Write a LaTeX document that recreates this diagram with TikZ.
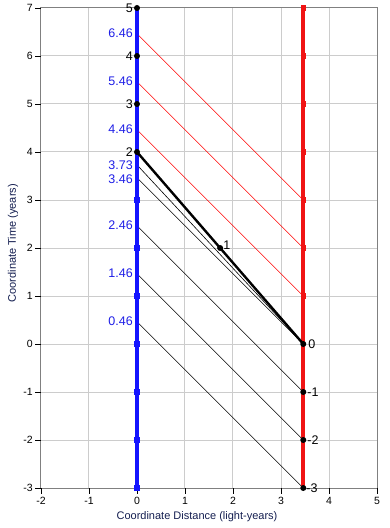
\documentclass[tikz,border=0pt]{standalone}
\usepackage{fontspec}
\setmainfont{Liberation Sans}
\definecolor{gridc}{RGB}{204,204,204}
\definecolor{framec}{RGB}{128,128,128}
\definecolor{wlblue}{RGB}{20,20,255}
\definecolor{wlred}{RGB}{240,20,20}
\definecolor{lblblue}{RGB}{30,30,230}
\definecolor{titlec}{RGB}{20,30,80}
\begin{document}
\begin{tikzpicture}[x=48pt,y=48pt,
  gridline/.style={draw=gridc,line width=1pt},
  frameline/.style={draw=framec,line width=1pt},
  tickmark/.style={draw=black,line width=0.8pt},
  ticklbl/.style={font=\fontsize{10.5}{12}\selectfont,text=black,inner sep=0pt},
  axtitle/.style={font=\fontsize{11}{13}\selectfont,text=titlec,inner sep=0pt},
  blueline/.style={draw=wlblue,line width=3.6pt},
  redline/.style={draw=wlred,line width=3.6pt},
  blacksig/.style={draw=black,line width=0.6pt},
  redsig/.style={draw=red,line width=0.6pt},
  pathline/.style={draw=black,line width=2.4pt,line join=round},
  dot/.style={circle,fill=black,inner sep=0pt,minimum size=6pt},
  bsq/.style={rectangle,fill=wlblue,inner sep=0pt,minimum size=5.5pt},
  rsq/.style={rectangle,fill=wlred,inner sep=0pt,minimum size=5.5pt},
  ptlbl/.style={font=\fontsize{12.5}{14}\selectfont,text=black,inner sep=0pt},
  bluelbl/.style={font=\fontsize{12.5}{14}\selectfont,text=lblblue,inner sep=0pt}
]
\useasboundingbox (-137pt,-184pt) rectangle (253pt,344pt);
% grid
\foreach \x in {-1,...,4} \draw[gridline] (\x,-3) -- (\x,7);
\foreach \y in {-2,...,6} \draw[gridline] (-2,\y) -- (5,\y);
\draw[frameline] (-2,-3) rectangle (5,7);
% ticks and tick labels
\foreach \y in {-3,...,7} {
  \draw[tickmark] (-2,\y) -- ++(-6pt,0);
  \node[ticklbl,anchor=east] (ty\y) at ([xshift=-8pt]-2,\y) {\y};
}
\foreach \x in {-2,...,5} {
  \draw[tickmark] (\x,-3) -- ++(0,-6pt);
  \node[ticklbl,anchor=north] (tx\x) at ([yshift=-9pt]\x,-3) {\x};
}
\node[axtitle] (xtitle) at (1.25,-3.6) {Coordinate Distance (light-years)};
\node[axtitle,rotate=90] (ytitle) at ([xshift=-124pt]0,2.1) {Coordinate Time (years)};
% key points
\coordinate (Bbot) at (0,-3);
\coordinate (Btop) at (0,7);
\coordinate (Rbot) at (3.464,-3);
\coordinate (Rtop) at (3.464,7);
\coordinate (E046) at (0,0.464);
\coordinate (E146) at (0,1.464);
\coordinate (E246) at (0,2.464);
\coordinate (E346) at (0,3.464);
\coordinate (E373) at (0,3.732);
\coordinate (E446) at (0,4.464);
\coordinate (E546) at (0,5.464);
\coordinate (E646) at (0,6.464);
\coordinate (R0) at (3.464,0);
\coordinate (Rm1) at (3.464,-1);
\coordinate (Rm2) at (3.464,-2);
\coordinate (Rm3) at (3.464,-3);
\coordinate (R1) at (3.464,1);
\coordinate (R2) at (3.464,2);
\coordinate (R3) at (3.464,3);
\coordinate (B4) at (0,4);
\coordinate (B5) at (0,5);
\coordinate (B6) at (0,6);
\coordinate (B7) at (0,7);
\coordinate (M) at (1.732,2);
% signals
\draw[blacksig] (E373) -- (R0);
\draw[blacksig] (E346) -- (R0);
\draw[blacksig] (E246) -- (Rm1);
\draw[blacksig] (E146) -- (Rm2);
\draw[blacksig] (E046) -- (Rm3);
\draw[redsig] (E446) -- (R1);
\draw[redsig] (E546) -- (R2);
\draw[redsig] (E646) -- (R3);
% worldlines
\draw[blueline] (Bbot) -- (Btop);
\draw[redline] (Rbot) -- (Rtop);
\draw[pathline] (B4) -- (M) -- (R0);
% markers
\foreach \y in {-3,...,3} \node[bsq] (bq\y) at (0,\y) {};
\foreach \y in {1,...,7} \node[rsq] (rq\y) at (3.464,\y) {};
\foreach \c in {B4,B5,B6,B7,M,R0,Rm1,Rm2,Rm3} \node[dot] (d\c) at (\c) {};
% labels
\node[ptlbl,anchor=east] (l5) at ([xshift=-4pt]B7) {5};
\node[ptlbl,anchor=east] (l4) at ([xshift=-4pt]B6) {4};
\node[ptlbl,anchor=east] (l3) at ([xshift=-4pt]B5) {3};
\node[ptlbl,anchor=east] (l2) at ([xshift=-4pt]B4) {2};
\node[ptlbl,anchor=west] (l1) at ([xshift=3pt,yshift=3pt]M) {1};
\node[ptlbl,anchor=west] (l0) at ([xshift=5pt]R0) {0};
\node[ptlbl,anchor=west] (lm1) at ([xshift=4pt]Rm1) {-1};
\node[ptlbl,anchor=west] (lm2) at ([xshift=4pt]Rm2) {-2};
\node[ptlbl,anchor=west] (lm3) at ([xshift=3pt]Rm3) {-3};
\node[bluelbl,anchor=east] (b646) at ([xshift=-4pt,yshift=1pt]E646) {6.46};
\node[bluelbl,anchor=east] (b546) at ([xshift=-4pt,yshift=1pt]E546) {5.46};
\node[bluelbl,anchor=east] (b446) at ([xshift=-4pt,yshift=1pt]E446) {4.46};
\node[bluelbl,anchor=east] (b373) at ([xshift=-4pt,yshift=0pt]E373) {3.73};
\node[bluelbl,anchor=east] (b346) at ([xshift=-4pt,yshift=-1pt]E346) {3.46};
\node[bluelbl,anchor=east] (b246) at ([xshift=-4pt,yshift=1pt]E246) {2.46};
\node[bluelbl,anchor=east] (b146) at ([xshift=-4pt,yshift=1pt]E146) {1.46};
\node[bluelbl,anchor=east] (b046) at ([xshift=-4pt,yshift=1pt]E046) {0.46};
\end{tikzpicture}
\end{document}
